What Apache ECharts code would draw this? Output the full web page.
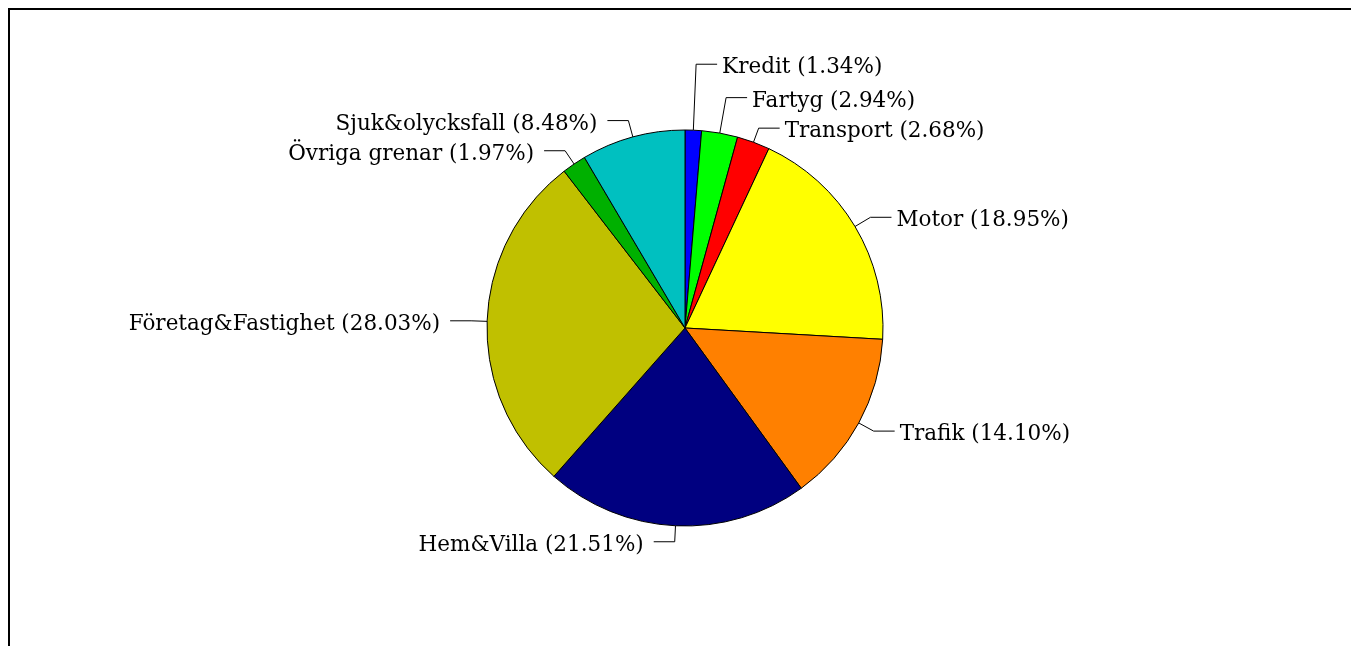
<!DOCTYPE html>
<html>
<head>
<meta charset="utf-8">
<script src="https://cdn.jsdelivr.net/npm/echarts@6/dist/echarts.min.js"></script>
<style>
  html, body { margin: 0; padding: 0; background: #fff; }
  #frame { position: absolute; left: 8px; top: 8px; right: 0; bottom: -10px;
           border-left: 2px solid #000; border-top: 2px solid #000; }
  #main { position: absolute; left: 0; top: 0; width: 1351px; height: 646px; }
</style>
</head>
<body>
<div id="frame"></div>
<div id="main"></div>
<script>
// branches, clockwise from 12 o'clock
var branches = ['Kredit', 'Fartyg', 'Transport', 'Motor', 'Trafik', 'Hem&Villa',
                'Företag&Fastighet', 'Övriga grenar', 'Sjuk&olycksfall'];
var shares = [1.34, 2.94, 2.68, 18.95, 14.10, 21.51, 28.03, 1.97, 8.48];
var colours = ['#0000ff', '#00ff00', '#ff0000', '#ffff00', '#ff8000', '#000080',
               '#c0c000', '#00b000', '#00c0c0'];
// first leader segment, longer for the thin slices at the top so labels stack
var leadLen = [66, 36, 15, 18, 17, 16, 16, 16, 17];

var chart = echarts.init(document.getElementById('main'));

var data = branches.map(function (b, i) {
    var leftSide = i >= 5;
    return {
        name: b,
        value: shares[i],
        itemStyle: { color: colours[i] },
        label: { distanceToLabelLine: leftSide ? 10 : 5 },
        labelLine: { length: leadLen[i] }
    };
});

chart.setOption({
    animation: false,
    series: [{
        type: 'pie',
        center: [685, 328],
        radius: [0, 198],
        startAngle: 90,
        clockwise: true,
        avoidLabelOverlap: false,
        data: data,
        itemStyle: { borderColor: '#000', borderWidth: 1 },
        label: {
            show: true,
            position: 'outside',
            color: '#000',
            formatter: function (p) {
                return '{t|' + p.name + ' (' + p.value.toFixed(2) + '%)}';
            },
            rich: {
                t: {
                    fontFamily: 'DejaVu Serif',
                    fontSize: 21.5,
                    color: '#000',
                    padding: [7, 0, 0, 0]
                }
            }
        },
        labelLine: {
            show: true,
            length2: 21,
            lineStyle: { color: '#000', width: 1 }
        },
        emphasis: { disabled: true }
    }]
});
</script>
</body>
</html>
